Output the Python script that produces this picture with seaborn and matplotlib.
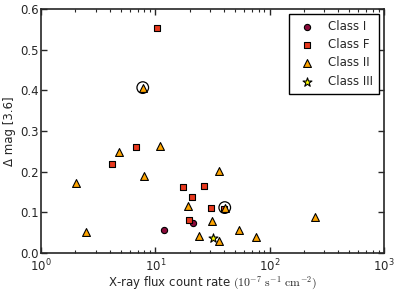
import matplotlib
matplotlib.use("Agg")
import matplotlib.pyplot as plt
import seaborn as sns
import pandas as pd

# values
class_I_x = [12.0, 21.2]
class_I_y = [0.057, 0.074]

class_F_x = [10.35, 4.18, 6.82, 17.4, 21.1, 26.7, 19.7, 30.5, 39.5]
class_F_y = [0.553, 0.219, 0.260, 0.163, 0.137, 0.165, 0.082, 0.111, 0.108]

class_II_x = [7.76, 2.01, 2.49, 4.84, 8.01, 11.06, 19.2, 23.9, 35.9, 31.2,
              35.9, 40.5, 53.7, 76.5, 251.0]
class_II_y = [0.407, 0.173, 0.052, 0.248, 0.190, 0.264, 0.115, 0.043, 0.203,
              0.078, 0.031, 0.112, 0.058, 0.039, 0.089]

class_III_x = [31.8]
class_III_y = [0.038]

circled_x = [7.76, 40.5]
circled_y = [0.407, 0.112]

classes = ["Class I", "Class F", "Class II", "Class III"]
colors = {"Class I": "#8b0a3a", "Class F": "#e8391e",
          "Class II": "#ffa500", "Class III": "#ffff00"}
markers = {"Class I": "o", "Class F": "s", "Class II": "^", "Class III": "*"}
sizes = {"Class I": 20, "Class F": 18, "Class II": 32, "Class III": 45}

df = pd.concat([
    pd.DataFrame({"x": class_I_x, "y": class_I_y, "cls": "Class I"}),
    pd.DataFrame({"x": class_F_x, "y": class_F_y, "cls": "Class F"}),
    pd.DataFrame({"x": class_II_x, "y": class_II_y, "cls": "Class II"}),
    pd.DataFrame({"x": class_III_x, "y": class_III_y, "cls": "Class III"}),
], ignore_index=True)

sns.set_theme(style="ticks", rc={
    "xtick.direction": "in", "ytick.direction": "in",
    "xtick.top": True, "ytick.right": True,
    "axes.linewidth": 1.2,
})
plt.rcParams["font.family"] = ["DejaVu Sans"]

fig = plt.figure(figsize=(3.99, 2.94), dpi=100)
ax = fig.add_axes([0.103, 0.139, 0.859, 0.830])

for c in classes:
    sub = df[df["cls"] == c]
    sns.scatterplot(data=sub, x="x", y="y", marker=markers[c], color=colors[c],
                    s=sizes[c], edgecolor="black", linewidth=0.8, label=c,
                    ax=ax, zorder=3)

# open circles marking two sources
ax.scatter(circled_x, circled_y, s=70, facecolors="none", edgecolors="black",
           linewidths=0.9, zorder=4)

ax.set_xscale("log")
ax.set_xlim(1, 1000)
ax.set_ylim(0, 0.6)
ax.set_yticks([0.0, 0.1, 0.2, 0.3, 0.4, 0.5, 0.6])
ax.tick_params(which="major", length=4, width=1, labelsize=8.5, pad=3)
ax.tick_params(axis="y", which="major", pad=1.5)
ax.tick_params(which="minor", length=2, width=0.8)

ax.set_xlabel(r"X-ray flux count rate $(10^{-7}\ \mathrm{s}^{-1}\ \mathrm{cm}^{-2})$",
              fontsize=8.5, math_fontfamily="cm", labelpad=1)
ax.set_ylabel("Δ mag [3.6]", fontsize=8.5, labelpad=3)

leg = ax.legend(loc="upper right", fontsize=8.5, frameon=True, fancybox=False,
                framealpha=1, edgecolor="black", borderpad=0.5,
                handletextpad=0.8, labelspacing=0.45, borderaxespad=0.4)
leg.get_frame().set_linewidth(1.0)

fig.savefig("out.png", dpi=100)
